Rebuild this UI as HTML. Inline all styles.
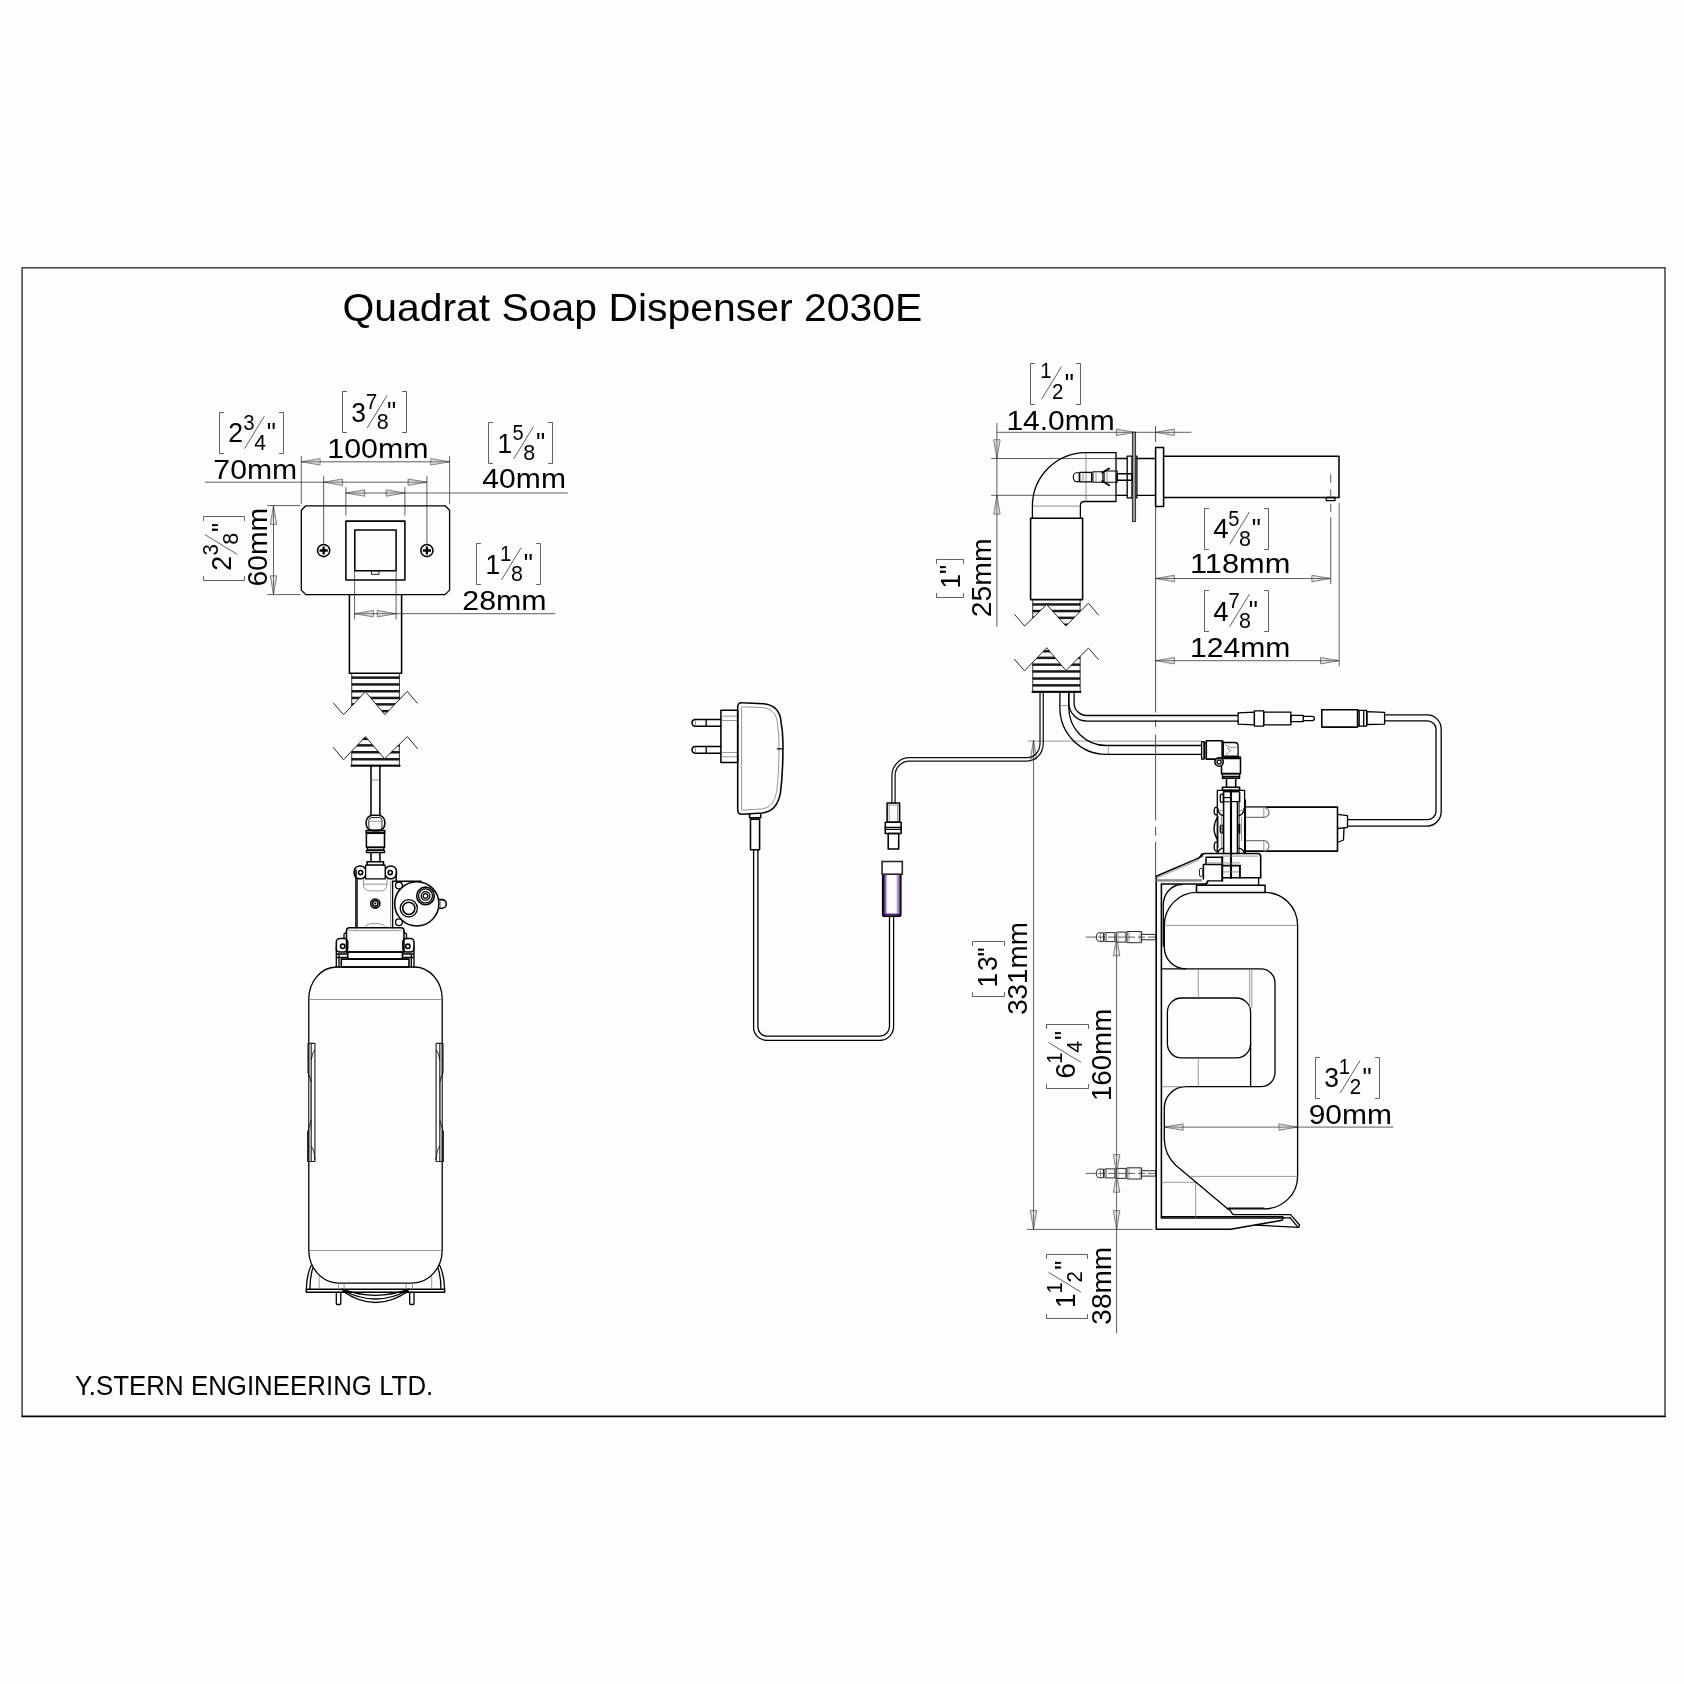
<!DOCTYPE html>
<html><head><meta charset="utf-8"><title>Quadrat Soap Dispenser 2030E</title>
<style>
html,body{margin:0;padding:0;background:#fdfdfd;}
body{width:1684px;height:1684px;overflow:hidden;font-family:"Liberation Sans",sans-serif;}
svg{will-change:transform;display:block;position:absolute;left:0;top:0;}
svg text{font-family:"Liberation Sans",sans-serif;}
.k{fill:none;stroke:#000;stroke-width:1.3;stroke-linejoin:round;stroke-linecap:round}
.k2{fill:none;stroke:#000;stroke-width:1.55;stroke-linejoin:round;stroke-linecap:round}
.t{fill:none;stroke:#111;stroke-width:0.9;stroke-linejoin:round}
.g{fill:none;stroke:#2b2b2b;stroke-width:0.75}
.lg{fill:none;stroke:#777;stroke-width:0.75}
.w{fill:#fdfdfd}
.b{fill:#000;stroke:none}
</style></head><body>
<svg width="1684" height="1684" viewBox="0 0 1684 1684">
<rect x="22.1" y="267.8" width="1642.9" height="1148.5" fill="none" stroke="#333" stroke-width="1.4"/>
<path d="M21.4 1416.4H1665.7" fill="none" stroke="#000" stroke-width="1.5"/>
<text transform="translate(342.38,321.4) scale(1.0412,1)" font-size="39.31" fill="#000">Quadrat Soap Dispenser 2030E</text>
<text transform="translate(74.93,1395.2) scale(0.9537,1)" font-size="27.13" fill="#000">Y.STERN ENGINEERING LTD.</text>
<text transform="translate(327.29,457.8) scale(1.0964,1)" font-size="27.71" fill="#000">100mm</text>
<text transform="translate(213.36,479) scale(1.0887,1)" font-size="27.71" fill="#000">70mm</text>
<text transform="translate(482.34,488.2) scale(1.0863,1)" font-size="27.71" fill="#000">40mm</text>
<text transform="translate(462.28,609.9) scale(1.0950,1)" font-size="27.71" fill="#000">28mm</text>
<g transform="translate(267.3,585) rotate(-90)"><text transform="translate(-1.41,0) scale(1.0205,1)" font-size="27.71" fill="#000">60mm</text></g>
<g transform="translate(342.1,421.7)"><text transform="translate(9.23,0) scale(0.9557,1)" font-size="27.71" fill="#000">3</text><text transform="translate(23.74,-12.8) scale(0.9728,1)" font-size="21.3" fill="#000">7</text><text transform="translate(34.68,7.2) scale(1.0060,1)" font-size="21.3" fill="#000">8</text><path class="g" d="M25.15 6.2L44.95 -26.2"/><text transform="translate(44.82,-0.4) scale(0.9333,1)" font-size="27.71" fill="#000">&quot;</text><path class="g" d="M4.8 -30.2H0.4V10.8H4.8"/><path class="g" d="M60 -30.2H64.4V10.8H60"/></g>
<g transform="translate(219.4,442.4)"><text transform="translate(8.83,0) scale(0.9603,1)" font-size="27.71" fill="#000">2</text><text transform="translate(23.9,-12.8) scale(0.9557,1)" font-size="21.3" fill="#000">3</text><text transform="translate(34.75,7.2) scale(0.9961,1)" font-size="21.3" fill="#000">4</text><path class="g" d="M25.15 6.2L44.95 -26.2"/><text transform="translate(47.42,-0.4) scale(0.9333,1)" font-size="27.71" fill="#000">&quot;</text><path class="g" d="M4.5 -29.9H0.1V11.1H4.5"/><path class="g" d="M59.7 -29.9H64.1V11.1H59.7"/></g>
<g transform="translate(488.5,452.8)"><text transform="translate(9.1,0) scale(0.9503,1)" font-size="27.71" fill="#000">1</text><text transform="translate(23.9,-12.8) scale(0.9378,1)" font-size="21.3" fill="#000">5</text><text transform="translate(34.68,7.2) scale(1.0060,1)" font-size="21.3" fill="#000">8</text><path class="g" d="M25.15 6.2L44.95 -26.2"/><text transform="translate(47.42,-0.4) scale(0.9333,1)" font-size="27.71" fill="#000">&quot;</text><path class="g" d="M4.4 -30.3H0V10.7H4.4"/><path class="g" d="M59.6 -30.3H64V10.7H59.6"/></g>
<g transform="translate(476.3,573.8)"><text transform="translate(9.1,0) scale(0.9503,1)" font-size="27.71" fill="#000">1</text><text transform="translate(23.8,-12.8) scale(0.9503,1)" font-size="21.3" fill="#000">1</text><text transform="translate(34.68,7.2) scale(1.0060,1)" font-size="21.3" fill="#000">8</text><path class="g" d="M25.15 6.2L44.95 -26.2"/><text transform="translate(47.42,-0.4) scale(0.9333,1)" font-size="27.71" fill="#000">&quot;</text><path class="g" d="M4.6 -30.3H0.2V10.7H4.6"/><path class="g" d="M59.8 -30.3H64.2V10.7H59.8"/></g>
<g transform="translate(231,580.5) rotate(-90)"><text transform="translate(9.83,0) scale(0.9603,1)" font-size="27.71" fill="#000">2</text><text transform="translate(24.9,-12.8) scale(0.9557,1)" font-size="21.3" fill="#000">3</text><text transform="translate(35.68,7.2) scale(1.0060,1)" font-size="21.3" fill="#000">8</text><path class="g" d="M26.15 6.2L45.95 -26.2"/><text transform="translate(48.42,-0.4) scale(0.9333,1)" font-size="27.71" fill="#000">&quot;</text><path class="g" d="M4.4 -27.5H0V13.5H4.4"/><path class="g" d="M59.6 -27.5H64V13.5H59.6"/></g>
<text transform="translate(1006.42,429.7) scale(1.0824,1)" font-size="27.71" fill="#000">14.0mm</text>
<g transform="translate(1030.7,392.9)"><text transform="translate(9.65,-14.9) scale(0.9503,1)" font-size="21.3" fill="#000">1</text><text transform="translate(21.29,6) scale(0.9603,1)" font-size="21.3" fill="#000">2</text><path class="g" d="M11 6.2L30.8 -26.2"/><text transform="translate(34.17,-0.4) scale(0.9333,1)" font-size="27.71" fill="#000">&quot;</text><path class="g" d="M4.2 -29.4H-0.2V11.6H4.2"/><path class="g" d="M45.4 -29.4H49.8V11.6H45.4"/></g>
<text transform="translate(1189.96,573.3) scale(1.1131,1)" font-size="27.71" fill="#000">118mm</text>
<text transform="translate(1190.01,657.2) scale(1.0873,1)" font-size="27.71" fill="#000">124mm</text>
<g transform="translate(1204.4,538.3)"><text transform="translate(8.9,0) scale(0.9961,1)" font-size="27.71" fill="#000">4</text><text transform="translate(23.9,-12.8) scale(0.9378,1)" font-size="21.3" fill="#000">5</text><text transform="translate(34.68,7.2) scale(1.0060,1)" font-size="21.3" fill="#000">8</text><path class="g" d="M25.15 6.2L44.95 -26.2"/><text transform="translate(47.42,-0.4) scale(0.9333,1)" font-size="27.71" fill="#000">&quot;</text><path class="g" d="M4.5 -29.8H0.1V11.2H4.5"/><path class="g" d="M59.7 -29.8H64.1V11.2H59.7"/></g>
<g transform="translate(1204.4,620.5)"><text transform="translate(8.9,0) scale(0.9961,1)" font-size="27.71" fill="#000">4</text><text transform="translate(23.74,-12.8) scale(0.9728,1)" font-size="21.3" fill="#000">7</text><text transform="translate(34.68,7.2) scale(1.0060,1)" font-size="21.3" fill="#000">8</text><path class="g" d="M25.15 6.2L44.95 -26.2"/><text transform="translate(44.42,-0.4) scale(0.9333,1)" font-size="27.71" fill="#000">&quot;</text><path class="g" d="M4.5 -30H0.1V11H4.5"/><path class="g" d="M59.7 -30H64.1V11H59.7"/></g>
<g transform="translate(990.9,615.9) rotate(-90)"><text transform="translate(-1.42,0) scale(1.0246,1)" font-size="27.71" fill="#000">25mm</text></g>
<g transform="translate(959.6,597.7) rotate(-90)"><text transform="translate(9.25,0) scale(0.9503,1)" font-size="27.71" fill="#000">1</text><text transform="translate(23.82,-0.4) scale(0.9333,1)" font-size="27.71" fill="#000">&quot;</text><path class="g" d="M4.6 -23.1H0.2V3.9H4.6"/><path class="g" d="M33.8 -23.1H38.2V3.9H33.8"/></g>
<g transform="translate(1027.3,1013.8) rotate(-90)"><text transform="translate(-1.06,0) scale(1.0031,1)" font-size="27.71" fill="#000">331mm</text></g>
<g transform="translate(997.4,996.7) rotate(-90)"><text transform="translate(9.25,0) scale(0.9503,1)" font-size="27.71" fill="#000">1</text><text transform="translate(25.73,0) scale(0.9557,1)" font-size="27.71" fill="#000">3</text><text transform="translate(40.17,-0.4) scale(0.9333,1)" font-size="27.71" fill="#000">&quot;</text><path class="g" d="M4.6 -24.9H0.2V7.1H4.6"/><path class="g" d="M50.8 -24.9H55.2V7.1H50.8"/></g>
<g transform="translate(1110.7,1099) rotate(-90)"><text transform="translate(-2.1,0) scale(0.9992,1)" font-size="27.71" fill="#000">160mm</text></g>
<g transform="translate(1074.8,1088.5) rotate(-90)"><text transform="translate(9.63,0) scale(1.0294,1)" font-size="27.71" fill="#000">6</text><text transform="translate(24.8,-12.8) scale(0.9503,1)" font-size="21.3" fill="#000">1</text><text transform="translate(35.75,7.2) scale(0.9961,1)" font-size="21.3" fill="#000">4</text><path class="g" d="M26.15 6.2L45.95 -26.2"/><text transform="translate(48.42,-0.4) scale(0.9333,1)" font-size="27.71" fill="#000">&quot;</text><path class="g" d="M4.4 -28.3H0V13.7H4.4"/><path class="g" d="M59.6 -28.3H64V13.7H59.6"/></g>
<text transform="translate(1308.72,1123.7) scale(1.0812,1)" font-size="27.71" fill="#000">90mm</text>
<g transform="translate(1315,1086.9)"><text transform="translate(9.23,0) scale(0.9557,1)" font-size="27.71" fill="#000">3</text><text transform="translate(23.8,-12.8) scale(0.9503,1)" font-size="21.3" fill="#000">1</text><text transform="translate(34.69,7.2) scale(0.9603,1)" font-size="21.3" fill="#000">2</text><path class="g" d="M25.15 6.2L44.95 -26.2"/><text transform="translate(47.42,-0.4) scale(0.9333,1)" font-size="27.71" fill="#000">&quot;</text><path class="g" d="M4.9 -29.4H0.5V11.6H4.9"/><path class="g" d="M60.1 -29.4H64.5V11.6H60.1"/></g>
<g transform="translate(1110.9,1323.6) rotate(-90)"><text transform="translate(-1.06,0) scale(1.0092,1)" font-size="27.71" fill="#000">38mm</text></g>
<g transform="translate(1074.6,1318.2) rotate(-90)"><text transform="translate(10.1,0) scale(0.9503,1)" font-size="27.71" fill="#000">1</text><text transform="translate(24.8,-12.8) scale(0.9503,1)" font-size="21.3" fill="#000">1</text><text transform="translate(35.69,7.2) scale(0.9603,1)" font-size="21.3" fill="#000">2</text><path class="g" d="M26.15 6.2L45.95 -26.2"/><text transform="translate(48.42,-0.4) scale(0.9333,1)" font-size="27.71" fill="#000">&quot;</text><path class="g" d="M4.1 -28.1H-0.3V12.9H4.1"/><path class="g" d="M59.3 -28.1H63.7V12.9H59.3"/></g>
<path class="g" d="M301.3 456L301.3 503.8"/>
<path class="g" d="M449.6 456L449.6 503.8"/>
<path class="g" d="M301.3 461.8L449.6 461.8"/>
<path class="g" d="M301.3 461.8L320.1 458.6L320.1 465Z" style="stroke-width:0.6"/>
<path class="lg" d="M305.8 461.8L318.7 459.5L318.7 464.1Z" style="stroke:#999;stroke-width:0.5"/>
<path class="g" d="M449.6 461.8L430.8 465L430.8 458.6Z" style="stroke-width:0.6"/>
<path class="lg" d="M445.1 461.8L432.2 464.1L432.2 459.5Z" style="stroke:#999;stroke-width:0.5"/>
<path class="g" d="M204.9 482.2L426.9 482.2"/>
<path class="g" d="M323.65 476L323.65 544"/>
<path class="g" d="M426.9 476L426.9 544"/>
<path class="g" d="M323.65 482.2L342.45 479L342.45 485.4Z" style="stroke-width:0.6"/>
<path class="lg" d="M328.15 482.2L341.05 479.9L341.05 484.5Z" style="stroke:#999;stroke-width:0.5"/>
<path class="g" d="M426.9 482.2L408.1 485.4L408.1 479Z" style="stroke-width:0.6"/>
<path class="lg" d="M422.4 482.2L409.5 484.5L409.5 479.9Z" style="stroke:#999;stroke-width:0.5"/>
<path class="g" d="M345.9 493L567.8 493"/>
<path class="g" d="M345.9 487.2L345.9 515.5"/>
<path class="g" d="M404.9 487.2L404.9 515.5"/>
<path class="g" d="M345.9 493L364.7 489.8L364.7 496.2Z" style="stroke-width:0.6"/>
<path class="lg" d="M350.4 493L363.3 490.7L363.3 495.3Z" style="stroke:#999;stroke-width:0.5"/>
<path class="g" d="M404.9 493L386.1 496.2L386.1 489.8Z" style="stroke-width:0.6"/>
<path class="lg" d="M400.4 493L387.5 495.3L387.5 490.7Z" style="stroke:#999;stroke-width:0.5"/>
<path class="g" d="M273.5 505.6L273.5 594.6"/>
<path class="g" d="M267.3 505.6L300.4 505.6"/>
<path class="g" d="M267.3 594.6L300.4 594.6"/>
<path class="g" d="M273.5 505.6L276.7 524.4L270.3 524.4Z" style="stroke-width:0.6"/>
<path class="lg" d="M273.5 510.1L275.8 523L271.2 523Z" style="stroke:#999;stroke-width:0.5"/>
<path class="g" d="M273.5 594.6L270.3 575.8L276.7 575.8Z" style="stroke-width:0.6"/>
<path class="lg" d="M273.5 590.1L271.2 577.2L275.8 577.2Z" style="stroke:#999;stroke-width:0.5"/>
<path class="g" d="M354.6 613.7L555.3 613.7"/>
<path class="g" d="M354.6 571L354.6 619.4"/>
<path class="g" d="M396.1 571L396.1 619.4"/>
<path class="g" d="M354.6 613.7L373.4 610.5L373.4 616.9Z" style="stroke-width:0.6"/>
<path class="lg" d="M359.1 613.7L372 611.4L372 616Z" style="stroke:#999;stroke-width:0.5"/>
<path class="g" d="M396.1 613.7L377.3 616.9L377.3 610.5Z" style="stroke-width:0.6"/>
<path class="lg" d="M391.6 613.7L378.7 616L378.7 611.4Z" style="stroke:#999;stroke-width:0.5"/>
<path class="k" d="M305.8 505.8H445.1L449.6 510.3V590.1L445.1 594.6H305.8L301.3 590.1V510.3Z"/>
<rect class="k2" x="345.9" y="521.1" width="59" height="58.9"/>
<rect class="k2" x="354.8" y="529.9" width="41.3" height="40.9"/>
<rect class="t" x="371.4" y="570.8" width="7.6" height="3.6"/>
<circle class="k2" cx="323.65" cy="550.5" r="6.1"/>
<path class="k" d="M319.55 550.5h8.2M323.65 546.4v8.2" style="stroke-width:2.3;stroke-linecap:butt"/>
<circle class="k2" cx="426.9" cy="550.5" r="6.1"/>
<path class="k" d="M422.8 550.5h8.2M426.9 546.4v8.2" style="stroke-width:2.3;stroke-linecap:butt"/>
<path class="k2" d="M349.4 594.6V673.2H401.6V594.6"/>
<clipPath id="cl1"><path d="M351.4 673.2H399.7V699.3L384.9 714.7L365.4 691.7L351.4 706.4Z"/></clipPath>
<clipPath id="cl2"><path d="M351.4 751.4L365.4 736.6L384.5 758.7L399.7 744V767H351.4Z"/></clipPath>
<g clip-path="url(#cl1)"><rect x="351.4" y="676.4" width="48.3" height="2.5" fill="#1a1a1a"/><rect x="351.4" y="683.2" width="48.3" height="2.5" fill="#1a1a1a"/><rect x="351.4" y="690" width="48.3" height="2.5" fill="#1a1a1a"/><rect x="351.4" y="696.7" width="48.3" height="2.5" fill="#1a1a1a"/><rect x="351.4" y="703.1" width="48.3" height="2.5" fill="#1a1a1a"/><rect x="351.4" y="709.9" width="48.3" height="2.5" fill="#1a1a1a"/><path class="k2" d="M351.4 0V2000M399.7 0V2000"/></g>
<g clip-path="url(#cl2)"><rect x="351.4" y="737.6" width="48.3" height="2.5" fill="#1a1a1a"/><rect x="351.4" y="744.1" width="48.3" height="2.5" fill="#1a1a1a"/><rect x="351.4" y="751" width="48.3" height="2.5" fill="#1a1a1a"/><rect x="351.4" y="758" width="48.3" height="2.5" fill="#1a1a1a"/><path class="k2" d="M351.4 0V2000M399.7 0V2000"/></g>
<rect x="350.7" y="764.6" width="49.7" height="2.1" fill="#000"/>
<path class="t" d="M333.2 702.8L343.5 714.7L365.4 691.7L384.9 714.7L407.3 691.4L417.6 703.5"/>
<path class="t" d="M333.2 747.3L343.5 759.8L365.4 736.6L384.5 758.7L407.3 736.6L417.6 748.7"/>
<path class="k2" d="M371 766.4V815.3M379.9 766.4V815.3"/>
<path class="lg" d="M371.5 780L379.4 780"/>
<rect class="k2" x="366.2" y="815.3" width="18.6" height="15.3" rx="6.5"/>
<rect class="t" x="368.8" y="817.5" width="13.2" height="12.5" rx="3"/>
<path class="lg" d="M369 821.3L382 821.3"/>
<rect class="k2" x="366.2" y="830.6" width="18.6" height="2.5"/>
<rect class="k2" x="366.4" y="833.1" width="18.1" height="14.3"/>
<rect class="k" x="367.4" y="847.4" width="16.4" height="2.5"/>
<rect class="k" x="366.4" y="850.6" width="18.1" height="2.1"/>
<path class="k2" d="M371 852.7V861.7M379.9 852.7V861.7"/>
<rect class="k2" x="367.1" y="861.7" width="16.4" height="3.5"/>
<path class="k2" d="M356 870V927.8M396.3 872V881.3"/>
<path class="t" d="M357.4 879L357.4 927.8"/>
<path class="lg" d="M390.6 881.3V927.8"/>
<path class="k" d="M392.6 881.3V927.8"/>
<rect class="k2" x="354.2" y="865.9" width="11.8" height="12.9" rx="5.5"/>
<rect class="k2" x="385" y="865.9" width="11.5" height="12.9" rx="5.5"/>
<rect class="k w" x="365.6" y="865.2" width="19.6" height="13.6"/>
<circle class="k2" cx="360.6" cy="872.5" r="2.1"/>
<circle class="k2" cx="390.2" cy="872.5" r="2.1"/>
<path class="lg" d="M363.5 878.8V885A6 6 0 0 0 369.5 890.9H381A6 6 0 0 0 387 885V878.8M363.5 884.2H387"/>
<path class="lg" d="M364 927.8A11.5 6 0 0 1 386.1 927.8"/>
<circle class="k2" cx="375.3" cy="903.5" r="4.6"/>
<circle class="k2" cx="375.3" cy="903.5" r="2.7"/>
<circle class="b" cx="375.3" cy="903.5" r="1.1"/>
<path class="k2" d="M392.6 881.3H421"/>
<circle class="k2 w" cx="416.8" cy="903.8" r="22.1"/>
<circle class="k w" cx="398.9" cy="885.4" r="3.4"/>
<circle class="k w" cx="398.9" cy="922.2" r="3.4"/>
<circle class="k2" cx="425.5" cy="895.9" r="8.8"/>
<circle class="k" cx="425.5" cy="895.9" r="7"/>
<circle class="k" cx="425.5" cy="895.9" r="4.3"/>
<circle class="k" cx="425.5" cy="895.9" r="2.3"/>
<circle class="k" cx="408.8" cy="908.3" r="8.6"/>
<circle class="k2" cx="408.8" cy="908.3" r="6.1"/>
<path class="k2" d="M439.2 899.6H442A4.3 4.3 0 0 1 442 908.2H439.2"/>
<path class="lg" d="M440.6 900L440.6 907.8"/>
<path class="k2" d="M346.5 952V930.8Q346.5 927.8 349.5 927.8H401Q404 927.8 404 930.8V952"/>
<path class="lg" d="M347.7 930.6H401.5"/>
<rect class="k2" x="336.3" y="938.5" width="11.4" height="13.5" rx="3.5"/>
<rect class="k2" x="402.8" y="938.5" width="11.2" height="13.5" rx="3.5"/>
<circle class="k2" cx="342.7" cy="946.3" r="2.2"/>
<circle class="k2" cx="407.8" cy="946.3" r="2.2"/>
<path class="k" d="M346.5 932L344 934V938.5M404 932L406.5 934V938.5"/>
<path class="k2" d="M346.5 952L404 952"/>
<rect class="k2" x="347.7" y="952" width="54.8" height="7.1"/>
<rect class="k2" x="341.3" y="959.1" width="67.7" height="7.9"/>
<path class="k" d="M336.3 948V967M339 954V967M414 948V967M411.3 954V967M336.3 954H347.7M402.5 954H414M336.3 957.5H347.7M402.5 957.5H414"/>
<path class="k" d="M336.3 967H414A28 32 0 0 1 442.2 999V1250.3A30 33 0 0 1 412.5 1283.1H338.4A30 33 0 0 1 308.8 1250.3V999A28 32 0 0 1 336.3 967Z"/>
<path class="lg" d="M308.8 999.5L442.2 999.5"/>
<path class="lg" d="M308.8 1250.5L442.2 1250.5"/>
<rect x="308.8" y="1076" width="2.4" height="54" fill="#b5b5b5"/>
<path class="k" d="M308 1072.5V1043.4H314.9V1161.5H307.6V1132" style="stroke-width:1.15;stroke:#222"/>
<path class="k" d="M311.2 1043.4V1161.5" style="stroke-width:1.15;stroke:#222"/>
<path class="t" d="M308 1072.5L311.2 1082M307.6 1132L311.2 1120"/>
<path class="t" d="M311.2 1146Q314.4 1150 314.9 1160M311.2 1060Q312.2 1052 314.9 1050"/>
<rect x="439.8" y="1076" width="2.4" height="54" fill="#b5b5b5"/>
<path class="k" d="M443 1072.5V1043.4H436.1V1161.5H443.4V1132" style="stroke-width:1.15;stroke:#222"/>
<path class="k" d="M439.8 1043.4V1161.5" style="stroke-width:1.15;stroke:#222"/>
<path class="t" d="M443 1072.5L439.8 1082M443.4 1132L439.8 1120"/>
<path class="t" d="M439.8 1146Q436.6 1150 436.1 1160M439.8 1060Q438.8 1052 436.1 1050"/>
<rect class="k2" x="306.3" y="1289.2" width="138.3" height="3.1"/>
<path class="k" d="M306.3 1289.2Q306.6 1275 311.3 1265.3M309.9 1289.2Q310 1277 312.8 1268.1"/>
<path class="k" d="M444.6 1289.2Q444.3 1275 439.6 1265.3M441 1289.2Q440.9 1277 438.1 1268.1"/>
<path class="lg" d="M319.2 1276V1289.2M338.4 1283.1V1289.2M344.1 1283.1V1289.2M406.1 1283.1V1289.2M412.5 1283.1V1289.2M431.7 1276V1289.2"/>
<rect class="k" x="336.3" y="1292.3" width="4.5" height="12.2" rx="1"/>
<rect class="k" x="409.7" y="1292.3" width="4.3" height="12.2" rx="1"/>
<path class="k" d="M342 1289.2Q375.5 1301.5 409 1289.2M343.5 1290.5Q375.5 1307.5 407.5 1290.5M342.5 1291Q375.5 1314 408.5 1291"/>
<path class="g" d="M996.9 432.3L1191.4 432.3"/>
<path class="g" d="M1135.2 432.3L1116.4 435.5L1116.4 429.1Z" style="stroke-width:0.6"/>
<path class="lg" d="M1130.7 432.3L1117.8 434.6L1117.8 430Z" style="stroke:#999;stroke-width:0.5"/>
<path class="g" d="M1155.6 432.3L1174.4 429.1L1174.4 435.5Z" style="stroke-width:0.6"/>
<path class="lg" d="M1160.1 432.3L1173 430L1173 434.6Z" style="stroke:#999;stroke-width:0.5"/>
<path class="g" d="M996.9 423L996.9 626.8"/>
<path class="g" d="M996.9 458.5L993.7 439.7L1000.1 439.7Z" style="stroke-width:0.6"/>
<path class="lg" d="M996.9 454L994.6 441.1L999.2 441.1Z" style="stroke:#999;stroke-width:0.5"/>
<path class="g" d="M996.9 495.3L1000.1 514.1L993.7 514.1Z" style="stroke-width:0.6"/>
<path class="lg" d="M996.9 499.8L999.2 512.7L994.6 512.7Z" style="stroke:#999;stroke-width:0.5"/>
<path class="g" d="M991.2 458.5L1127.2 458.5"/>
<path class="g" d="M991.2 495.3L1127.2 495.3"/>
<path class="g" d="M1155.6 426V442M1155.6 506.4V712.5M1155.6 720V727M1155.6 734.5V820.4M1155.6 827V835.6M1155.6 841.7V876.3" style="stroke:#3a3a3a;stroke-width:0.9"/>
<path class="g" d="M1155.6 578.5L1330.7 578.5"/>
<path class="g" d="M1155.6 578.5L1174.4 575.3L1174.4 581.7Z" style="stroke-width:0.6"/>
<path class="lg" d="M1160.1 578.5L1173 576.2L1173 580.8Z" style="stroke:#999;stroke-width:0.5"/>
<path class="g" d="M1330.7 578.5L1311.9 581.7L1311.9 575.3Z" style="stroke-width:0.6"/>
<path class="lg" d="M1326.2 578.5L1313.3 580.8L1313.3 576.2Z" style="stroke:#999;stroke-width:0.5"/>
<path class="g" d="M1330.7 474.2V482.7M1330.7 489.2V496.6M1330.7 503.8V512M1330.7 517.3V584.1" style="stroke-width:1.1;stroke:#6a6a6a"/>
<path class="g" d="M1155.6 660.7L1339.3 660.7"/>
<path class="g" d="M1155.6 660.7L1174.4 657.5L1174.4 663.9Z" style="stroke-width:0.6"/>
<path class="lg" d="M1160.1 660.7L1173 658.4L1173 663Z" style="stroke:#999;stroke-width:0.5"/>
<path class="g" d="M1339.3 660.7L1320.5 663.9L1320.5 657.5Z" style="stroke-width:0.6"/>
<path class="lg" d="M1334.8 660.7L1321.9 663L1321.9 658.4Z" style="stroke:#999;stroke-width:0.5"/>
<path class="g" d="M1339.2 502.7V666.3" style="stroke-width:1.3;stroke:#888"/>
<path class="k2" d="M1163.6 456.3H1339V497.5H1163.6"/>
<rect class="k" x="1326.3" y="497.5" width="8.6" height="3.2"/>
<rect class="k2" x="1155.6" y="447.5" width="8" height="58.9"/>
<path class="k" d="M1116 458.5H1127.2M1136.9 458.5H1155.6M1116 495.3H1127.2M1136.9 495.3H1155.6"/>
<rect class="k" x="1127.2" y="456.2" width="5" height="41.6"/>
<rect class="k" x="1132.2" y="456.2" width="4.7" height="41.6"/>
<rect x="1132.4" y="432.3" width="3.2" height="89.2" fill="#9a9a9a" stroke="#222" stroke-width="0.9"/>
<path class="k" d="M1116 452.6H1086A53.6 53.6 0 0 0 1032.4 506.2V518.3"/>
<path class="k" d="M1116 452.6V501.5H1084Q1080.4 501.5 1080.4 505.5V518.3"/>
<path class="g" d="M1086 452.6V501.5M1033 506.1H1080.4" style="stroke:#666;stroke-width:0.7"/>
<path class="k" d="M1079.2 472.8H1076.3A3 4.4 0 0 0 1076.3 481.6H1079.2Z" style="stroke-width:1.1"/>
<rect class="k" x="1079.8" y="472.4" width="11.8" height="9.5" style="stroke-width:1.1"/>
<rect class="k" x="1092.9" y="471.8" width="10" height="10.4" style="stroke-width:1.1"/>
<rect class="k" x="1104.1" y="471" width="13.1" height="11.2" style="stroke-width:1.1"/>
<path class="lg" d="M1083 472.4V481.9M1096 471.8V482.2M1107 471V482.2"/>
<rect class="k2" x="1117.2" y="473.7" width="15" height="6.6"/>
<path class="k" d="M1109.1 468.5L1102.2 472.8M1102.2 480.9L1109.1 485.3" style="stroke-width:1.8"/>
<rect class="k2" x="1030.6" y="518.3" width="52" height="81.3"/>
<clipPath id="cr1"><path d="M1032.4 599.6H1080.5V611.2L1065.9 626L1046.7 604.6L1032.4 618.4Z"/></clipPath>
<clipPath id="cr2"><path d="M1032.4 662.7L1046.7 647.7L1065.9 670.5L1080.5 656V693H1032.4Z"/></clipPath>
<g clip-path="url(#cr1)"><rect x="1032.4" y="603.2" width="48.1" height="2.5" fill="#1a1a1a"/><rect x="1032.4" y="609.8" width="48.1" height="2.5" fill="#1a1a1a"/><rect x="1032.4" y="616.6" width="48.1" height="2.5" fill="#1a1a1a"/><rect x="1032.4" y="623.5" width="48.1" height="2.5" fill="#1a1a1a"/><path class="k2" d="M1032.4 0V2000M1080.5 0V2000"/></g>
<g clip-path="url(#cr2)"><rect x="1032.4" y="650" width="48.1" height="2.5" fill="#1a1a1a"/><rect x="1032.4" y="656.6" width="48.1" height="2.5" fill="#1a1a1a"/><rect x="1032.4" y="663.4" width="48.1" height="2.5" fill="#1a1a1a"/><rect x="1032.4" y="670.2" width="48.1" height="2.5" fill="#1a1a1a"/><rect x="1032.4" y="677.3" width="48.1" height="2.5" fill="#1a1a1a"/><rect x="1032.4" y="684.1" width="48.1" height="2.5" fill="#1a1a1a"/><path class="k2" d="M1032.4 0V2000M1080.5 0V2000"/></g>
<rect x="1031.7" y="690.8" width="49.5" height="2.1" fill="#000"/>
<path class="t" d="M1014.3 614.2L1024.6 626L1046.7 604.6L1065.9 626L1088.4 603.2L1098.7 615.3"/>
<path class="t" d="M1014.3 659.1L1024.6 670.9L1046.7 647.7L1065.9 670.5L1088.4 648.1L1098.7 659.8"/>
<path class="lg" d="M1027.2 741.1H1201.3" style="stroke:#8a8a8a;stroke-width:0.9"/>
<path class="k" d="M1068.8 692.4V702.8A18.4 18.4 0 0 0 1087.2 721.2H1238.1"/>
<path class="k" d="M1074.1 692.4V702.9A12.5 12.6 0 0 0 1086.6 715.5H1238.1"/>
<path class="k" d="M1059.9 692.4V707.8A46.3 46.6 0 0 0 1106.2 754.4H1201.3"/>
<path class="k" d="M1068.8 692.4V707.8A37.4 37.7 0 0 0 1106.2 745.5H1201.3"/>
<path class="lg" d="M1060.5 705.6L1068.3 705.6"/>
<path class="lg" d="M1108.3 745.8L1108.3 754.2"/>
<path class="k" d="M1238.1 712.8L1254.4 712.1V724.9L1238.1 724.2Z"/>
<rect class="k" x="1254.4" y="710.9" width="9.3" height="15.2"/>
<rect class="k" x="1263.7" y="712.1" width="27.2" height="12.8"/>
<rect class="k" x="1290.9" y="715.4" width="12.4" height="6.2"/>
<path class="k" d="M1303.3 716.4H1312.4A2 2.1 0 0 1 1312.4 720.6H1303.3"/>
<rect class="k2" x="1321.8" y="709.7" width="35.8" height="17.4"/>
<rect class="k" x="1357.6" y="710.4" width="9" height="15.8"/>
<path class="k" d="M1359.2 710.4L1359.2 726.2"/>
<path class="k" d="M1363.7 710.4L1363.7 726.2"/>
<path class="k" d="M1367 711.6L1384.6 712.3V724.1L1367 724.5Z"/>
<path class="k" d="M1384.9 714.9H1427.3A14 14.2 0 0 1 1441.2 729.1V811.4A14 14.7 0 0 1 1427.3 826.1H1348.3"/>
<path class="k" d="M1384.9 720.9H1427.3A8.7 8.2 0 0 1 1436 729.1V811.4A8.7 8.3 0 0 1 1427.3 819.7H1348.3"/>
<rect class="k" x="1201.6" y="741.6" width="2.6" height="17.5"/>
<rect class="k" x="1204.2" y="742.6" width="2.1" height="15.6"/>
<rect class="k2" x="1206.3" y="740.7" width="15.8" height="18.4"/>
<path class="k" d="M1223.3 741.5L1223.3 757"/>
<path class="k" d="M1223.6 742.5H1234.5Q1238.1 742.5 1238.1 746.1V756.1H1223.6"/>
<path class="lg" d="M1225 744.5L1229 747L1227.5 749L1231 750.5L1227.5 753L1226 755.5M1229 747.3H1237.5"/>
<rect class="k" x="1223.6" y="757" width="16.9" height="1.5"/>
<rect class="k2 w" x="1221.5" y="758.5" width="19" height="15.1"/>
<circle class="k2 w" cx="1219.1" cy="762.1" r="4.2"/>
<circle class="k" cx="1219.1" cy="762.1" r="2.1"/>
<rect class="k" x="1222.4" y="773.6" width="17.2" height="2.7"/>
<rect class="k" x="1222.4" y="776.9" width="17.2" height="1.5"/>
<path class="k2" d="M1226.5 778.4V787.3M1235.7 778.4V787.3"/>
<rect class="k2" x="1222.4" y="787.3" width="17.2" height="3"/>
<path class="k" d="M1217.3 853.4V790.3H1244.6V853.4"/>
<path class="k" d="M1245.4 800L1245.4 853.4"/>
<rect class="b" x="1223.6" y="790.3" width="16" height="2.1"/>
<path class="k2" d="M1223.6 790.3V853.4M1239.6 792.4V802M1237.5 802V853.4"/>
<path class="k" d="M1231 790.3V878" style="stroke-width:2.1"/>
<path class="k" d="M1224 797.7L1231 797.7"/>
<rect class="b" x="1223.6" y="801" width="16.3" height="1.2"/>
<path class="lg" d="M1224.5 801.8L1231 801.8"/>
<rect class="k" x="1220.3" y="794.1" width="3" height="8.3" rx="1.4"/>
<rect class="k" x="1220.3" y="825.2" width="2.7" height="7.8" rx="1.3"/>
<rect class="b" x="1238.3" y="823.8" width="2" height="10"/>
<path class="t" d="M1239.2 803V823.8M1239.2 833.8V853"/>
<path class="lg" d="M1241.5 817V841"/>
<path class="k" d="M1217.3 807.1H1216A1.8 3.8 0 0 0 1216 814.8H1217.3"/>
<path class="k" d="M1217.3 842.2H1216A1.8 4.4 0 0 0 1216 851.1H1217.3"/>
<path class="k" d="M1217.9 808.5Q1218.5 815 1223.3 815.5M1244 808.5Q1243.5 815 1238.5 815.8M1217.9 853Q1218.5 849 1223.3 848.2M1244 853Q1243.5 849 1238.5 848.2"/>
<path class="lg" d="M1218.5 810.5H1223M1238.5 810.5H1244"/>
<path class="k" d="M1217.9 816.6Q1210.2 828.5 1217.9 840.4"/>
<path class="lg" d="M1218.5 816V848M1221.5 816V848"/>
<path class="k2" d="M1244.6 807.1H1337.5V851.1H1245.4"/>
<path class="lg" d="M1245.8 807.4H1263.8A5.2 5 0 0 1 1263.8 817.4H1245.8M1245.8 840.7H1263.8A5.2 5.2 0 0 1 1263.8 851.1" style="stroke-width:1.2"/>
<path class="lg" d="M1263.8 807.4V817.4M1263.8 840.7V851.1"/>
<path class="k" d="M1337.5 814.3L1347.5 815.6V827.3L1344 827.8L1343.5 840L1337.5 842.5"/>
<path class="k" d="M1337.5 828.5L1344 827.8"/>
<path class="g" d="M1033.55 740.2L1033.55 1229.4"/>
<path class="g" d="M1033.55 740.2L1036.75 759L1030.35 759Z" style="stroke-width:0.6"/>
<path class="lg" d="M1033.55 744.7L1035.85 757.6L1031.25 757.6Z" style="stroke:#999;stroke-width:0.5"/>
<path class="g" d="M1033.55 1229.4L1030.35 1210.6L1036.75 1210.6Z" style="stroke-width:0.6"/>
<path class="lg" d="M1033.55 1224.9L1031.25 1212L1035.85 1212Z" style="stroke:#999;stroke-width:0.5"/>
<path class="g" d="M1027.1 1229.4L1152.7 1229.4"/>
<path class="g" d="M1116.6 937L1116.6 1333.4"/>
<path class="g" d="M1116.6 937L1119.8 955.8L1113.4 955.8Z" style="stroke-width:0.6"/>
<path class="lg" d="M1116.6 941.5L1118.9 954.4L1114.3 954.4Z" style="stroke:#999;stroke-width:0.5"/>
<path class="g" d="M1116.6 1173.4L1113.4 1154.6L1119.8 1154.6Z" style="stroke-width:0.6"/>
<path class="lg" d="M1116.6 1168.9L1114.3 1156L1118.9 1156Z" style="stroke:#999;stroke-width:0.5"/>
<path class="g" d="M1116.6 1173.4L1119.8 1192.2L1113.4 1192.2Z" style="stroke-width:0.6"/>
<path class="lg" d="M1116.6 1177.9L1118.9 1190.8L1114.3 1190.8Z" style="stroke:#999;stroke-width:0.5"/>
<path class="g" d="M1116.6 1229.4L1113.4 1210.6L1119.8 1210.6Z" style="stroke-width:0.6"/>
<path class="lg" d="M1116.6 1224.9L1114.3 1212L1118.9 1212Z" style="stroke:#999;stroke-width:0.5"/>
<path class="g" d="M1164.3 1127.1L1393.4 1127.1"/>
<path class="g" d="M1164.3 1127.1L1183.1 1123.9L1183.1 1130.3Z" style="stroke-width:0.6"/>
<path class="lg" d="M1168.8 1127.1L1181.7 1124.8L1181.7 1129.4Z" style="stroke:#999;stroke-width:0.5"/>
<path class="g" d="M1297.7 1127.1L1278.9 1130.3L1278.9 1123.9Z" style="stroke-width:0.6"/>
<path class="lg" d="M1293.2 1127.1L1280.3 1129.4L1280.3 1124.8Z" style="stroke:#999;stroke-width:0.5"/>
<path class="g" d="M1085.7 937.1L1155 937.1"/>
<path class="t w" d="M1103.5 932.8 H1099.5A3.2 4.3 0 0 0 1099.5 941.4H1103.5Z"/>
<rect class="t w" x="1104.9" y="932.6" width="10" height="9"/>
<rect class="t w" x="1116.3" y="932.1" width="9.6" height="10"/>
<rect class="t w" x="1127" y="931.5" width="14.6" height="11.2"/>
<rect class="t w" x="1141.6" y="934.4" width="14.1" height="5.4"/>
<path class="lg" d="M1100.5 933.1V941.1M1106.5 932.6V941.6M1118 932.1V942.1M1129 931.5V942.7M1140 931.5V942.7"/>
<path class="g" d="M1098 937.1H1155" style="stroke-dasharray:7 3"/>
<path class="g" d="M1085.7 1173.4L1155 1173.4"/>
<path class="t w" d="M1103.5 1169.1 H1099.5A3.2 4.3 0 0 0 1099.5 1177.7H1103.5Z"/>
<rect class="t w" x="1104.9" y="1168.9" width="10" height="9"/>
<rect class="t w" x="1116.3" y="1168.4" width="9.6" height="10"/>
<rect class="t w" x="1127" y="1167.8" width="14.6" height="11.2"/>
<rect class="t w" x="1141.6" y="1170.7" width="14.1" height="5.4"/>
<path class="lg" d="M1100.5 1169.4V1177.4M1106.5 1168.9V1177.9M1118 1168.4V1178.4M1129 1167.8V1179M1140 1167.8V1179"/>
<path class="g" d="M1098 1173.4H1155" style="stroke-dasharray:7 3"/>
<path class="k2" d="M1201.8 854.1Q1200.5 857.5 1198 858.4L1156.2 876.2V1229.3H1230.8L1282.1 1220.3L1283 1217.9"/>
<path class="lg" d="M1156.8 878L1199 860"/>
<rect x="1156.5" y="879.2" width="45.3" height="2.4" fill="#8a8a8a"/>
<path class="k2" d="M1161.4 884V1217.9H1283"/>
<path class="k" d="M1161.4 1216.7L1283 1216.7"/>
<path class="k" d="M1161.4 884H1206.5Q1207.9 883 1207.9 880.8"/>
<path class="k" d="M1181.8 884.5A18.5 20.4 0 0 0 1163.3 904.9V946"/>
<path class="k" d="M1227.9 1208.9Q1230.5 1210 1231.5 1212.5T1234.5 1214.6H1290.6L1299.6 1225L1298.7 1227.4L1255.5 1225"/>
<path class="k" d="M1289.7 1217.4L1297.7 1226.9"/>
<path class="k" d="M1283 1217.9H1289.7"/>
<path class="lg" d="M1160.5 1182.3L1195.6 1182.3"/>
<path class="lg" d="M1195.6 1182.3L1195.6 1217.9"/>
<path class="k2" d="M1201.8 856.6Q1201.8 853.4 1205 853.4H1257.5Q1260.7 853.4 1260.7 856.6V877.8"/>
<path class="k2" d="M1222.4 877.8H1260.7"/>
<path class="k2" d="M1206 857.3H1222.2"/>
<path class="k" d="M1222.2 857.3V880.8" style="stroke-width:2"/>
<path class="k2" d="M1206 858.8V864.4M1203.4 864.4H1222.2M1203.4 864.4V879"/>
<path class="k" d="M1222.4 865.6H1240.2M1239.9 865.6V877.8" style="stroke-width:1.9"/>
<path class="lg" d="M1206.5 862.9H1240.4M1223.2 871.9H1239.3M1222.2 856.1H1258.3"/>
<rect class="t" x="1199.5" y="868.3" width="3.3" height="8.3" rx="1.6"/>
<path class="k" d="M1222.2 880.8H1207.8Q1206.5 882.5 1205.7 884.3"/>
<path class="k" d="M1258.6 877.8V885.2"/>
<rect class="k2" x="1196.5" y="885.2" width="68.6" height="7.2"/>
<path class="k" d="M1196.5 892.4A32.3 33 0 0 0 1164.3 925.4V947.3A21.4 21.5 0 0 0 1185.7 968.8H1261A14 14.3 0 0 1 1275 983.1V1072.6A14 14.1 0 0 1 1261 1086.7H1185.7A21.4 21.4 0 0 0 1164.3 1108.1V1139.5Q1164.8 1155 1175.7 1165.2L1227.9 1208.9H1264A33.6 32.5 0 0 0 1297.6 1176.4V925.4A32.7 33 0 0 0 1264.9 892.4"/>
<path class="k" d="M1228 1208.2L1264 1208.2"/>
<path class="lg" d="M1164.3 925.4L1297.6 925.4"/>
<path class="lg" d="M1190.9 1176.4L1297.6 1176.4"/>
<rect class="k" x="1167.4" y="998" width="83.2" height="59.8" rx="14"/>
<path class="k" d="M1250.6 1043L1250.6 1086.7"/>
<path class="k" d="M1161.4 968.8L1185.7 968.8"/>
<path class="lg" d="M1161.4 1086.7L1185.7 1086.7"/>
<path class="lg" d="M1198.3 968.8V998M1198.3 1057.8V1086.7M1249.7 968.8V1008M1251.8 968.8V1008"/>
<path class="k" d="M1043.25 692.4V743.4A16 17.8 0 0 1 1027.2 761H909.4A14.3 14.7 0 0 0 895.1 775.6V802.9" style="stroke-width:1.25;stroke:#111"/>
<path class="k" d="M1040 692.4V743.4A12.8 14.3 0 0 1 1027.2 757.7H909.4A17.5 17.9 0 0 0 891.9 775.6V802.9" style="stroke-width:1.25;stroke:#111"/>
<rect class="k2" x="887.1" y="802.9" width="12.5" height="19.3"/>
<path class="lg" d="M889.2 805V822.2M897.5 805V822.2M887.8 805H899"/>
<rect class="k2" x="885.3" y="822.2" width="15.8" height="11.3"/>
<rect class="k" x="885.3" y="827.4" width="15.8" height="1.9"/>
<rect class="k2" x="888.2" y="833.5" width="10.5" height="15.5"/>
<linearGradient id="pg" x1="0" x2="1" y1="0" y2="0"><stop offset="0" stop-color="#2a0570"/><stop offset="0.08" stop-color="#4a1a8c"/><stop offset="0.22" stop-color="#cdbde2"/><stop offset="0.26" stop-color="#fdfdfd"/><stop offset="0.74" stop-color="#fdfdfd"/><stop offset="0.78" stop-color="#cdbde2"/><stop offset="0.92" stop-color="#7a55ae"/><stop offset="1" stop-color="#2a0570"/></linearGradient>
<rect x="882.7" y="874.2" width="18.1" height="41.9" fill="url(#pg)"/>
<rect x="883.4" y="913.6" width="16.7" height="1.4" fill="#4a1a8c"/>
<rect class="k2" x="882.7" y="874.2" width="18.1" height="41.9" rx="1"/>
<rect x="882.1" y="861.5" width="20.2" height="12.7" fill="#fdfdfd" stroke="#26262c" stroke-width="1.6"/>
<path class="k" d="M893.6 916.1V1026.6A13.8 13.8 0 0 1 879.8 1040.4H766.9A13.1 13.1 0 0 1 753.6 1027.3V849.8"/>
<path class="k" d="M889.5 916.1V1026.4A9.7 9.7 0 0 1 879.8 1036.1H766.9A9 9 0 0 1 757.9 1027.1V849.8"/>
<rect class="k2" x="750.5" y="819.3" width="9.1" height="30.5"/>
<path class="k2" d="M749.5 814V817.7H760.7V814M751.4 817.7V819.3M758.8 817.7V819.3"/>
<path class="k2" d="M720.9 719.4H695.4A3.4 3.45 0 0 0 695.4 726.3H720.9"/>
<path class="k" d="M706.2 719.4L706.2 726.3"/>
<path class="lg" d="M695.5 720.2L695.5 725.5"/>
<path class="k2" d="M720.9 746.4H695.4A3.4 3.45 0 0 0 695.4 753.3H720.9"/>
<path class="k" d="M706.2 746.4L706.2 753.3"/>
<path class="lg" d="M695.5 747.2L695.5 752.5"/>
<rect class="k2" x="720.9" y="710.3" width="16.8" height="52.2"/>
<path class="lg" d="M721.5 716.2H737M721.5 720.5H737M721.5 752.5H737M721.5 756.8H737"/>
<path class="k2" d="M737.7 707Q737.7 702.5 742 702.8L763.4 703.7Q777.5 705 780.5 717.8Q783.5 735 782.9 748.8Q783 772 780.5 792.6Q777 811.5 762.3 812.9L742 814.2Q737.7 814.3 737.7 810V707Z"/>
<path class="lg" d="M741.6 707V810M742 706.8L763.2 707.6Q774.5 708.8 777 720Q779.4 735 779 748.8Q779 772 776.8 791Q774 807.8 762 809L742 810.2"/>
<path class="k" d="M777.3 748.8L782.9 748.8"/>
</svg>
</body></html>
